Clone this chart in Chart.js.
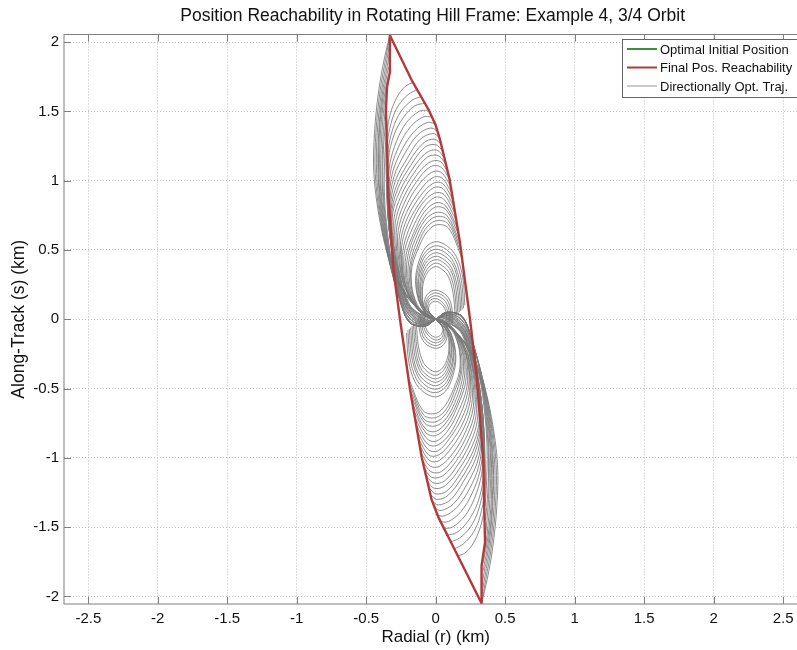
<!DOCTYPE html>
<html>
<head>
<meta charset="utf-8">
<title>Position Reachability</title>
<script src="https://cdn.jsdelivr.net/npm/chart.js@4.4.1/dist/chart.umd.min.js"></script>
<style>
html, body { margin: 0; padding: 0; overflow: hidden; background: #fff; }
#wrap { position: absolute; left: 0; top: 0; width: 870px; height: 650px; }
</style>
</head>
<body>
<div id="wrap"><canvas id="hillChart" width="870" height="650"></canvas></div>
<script>
// Axis ticks
const xTicks = [-2.5, -2, -1.5, -1, -0.5, 0, 0.5, 1, 1.5, 2, 2.5];
const yTicks = [-2, -1.5, -1, -0.5, 0, 0.5, 1, 1.5, 2];

// Optimal initial position (green)
const initX = [0];
const initY = [0];

// Final position reachability boundary (red)
const reachX = [-0.33, -0.17, -0.05, 0.0, 0.03, 0.10, 0.175, 0.247, 0.295, 0.342, 0.355, 0.33, 0.33,
                0.10, 0.02, -0.03, -0.10, -0.185, -0.257, -0.305, -0.34, -0.358, -0.35, -0.33, -0.33];
const reachY = [2.05, 1.72, 1.51, 1.40, 1.30, 1.01, 0.55, 0.0, -0.41, -1.01, -1.61, -1.78, -2.05,
                -1.59, -1.43, -1.30, -1.0, -0.505, 0.0, 0.36, 0.89, 1.51, 1.68, 1.78, 2.05];

// Directionally optimal trajectories, upper arm: big arches (x, y pairs)
const upperArches = [
  [-0.16,1.71, -0.22,1.68, -0.28,1.60, -0.33,1.47, -0.355,1.30, -0.355,1.00, -0.34,0.70, -0.30,0.40, -0.26,0.14, -0.19,-0.01, -0.08,-0.05, 0,0],
  [-0.13,1.66, -0.20,1.62, -0.27,1.54, -0.32,1.42, -0.35,1.25, -0.352,0.97, -0.338,0.68, -0.30,0.39, -0.26,0.14, -0.185,0.0, -0.08,-0.045, 0,0],
  [-0.10,1.61, -0.17,1.58, -0.25,1.50, -0.31,1.37, -0.345,1.20, -0.35,0.94, -0.336,0.66, -0.30,0.38, -0.255,0.14, -0.18,0.0, -0.08,-0.04, 0,0],
  [-0.075,1.56, -0.15,1.54, -0.23,1.46, -0.30,1.33, -0.34,1.16, -0.348,0.92, -0.334,0.64, -0.295,0.37, -0.25,0.14, -0.175,0.01, -0.075,-0.04, 0,0],
  [-0.05,1.51, -0.12,1.50, -0.21,1.42, -0.28,1.29, -0.33,1.12, -0.345,0.90, -0.332,0.63, -0.29,0.36, -0.245,0.13, -0.17,0.01, -0.07,-0.035, 0,0],
  [-0.025,1.46, -0.09,1.46, -0.18,1.39, -0.26,1.26, -0.32,1.09, -0.34,0.88, -0.33,0.62, -0.29,0.35, -0.24,0.13, -0.165,0.015, -0.07,-0.03, 0,0],
  [0.0,1.41, -0.06,1.42, -0.15,1.36, -0.24,1.23, -0.31,1.06, -0.335,0.86, -0.325,0.60, -0.285,0.34, -0.235,0.13, -0.16,0.02, -0.065,-0.03, 0,0],
  [0.015,1.36, -0.04,1.38, -0.13,1.33, -0.22,1.20, -0.30,1.03, -0.33,0.84, -0.32,0.59, -0.28,0.34, -0.23,0.13, -0.155,0.02, -0.06,-0.025, 0,0],
  [0.03,1.31, -0.02,1.34, -0.11,1.30, -0.20,1.17, -0.29,1.00, -0.325,0.82, -0.318,0.58, -0.28,0.33, -0.225,0.12, -0.15,0.025, -0.06,-0.02, 0,0],
  [0.042,1.26, -0.01,1.30, -0.09,1.27, -0.19,1.14, -0.28,0.97, -0.32,0.80, -0.315,0.57, -0.275,0.33, -0.22,0.12, -0.145,0.03, -0.055,-0.02, 0,0],
  [0.054,1.21, 0.0,1.26, -0.08,1.24, -0.18,1.11, -0.27,0.95, -0.315,0.78, -0.31,0.56, -0.27,0.32, -0.215,0.12, -0.14,0.03, -0.05,-0.015, 0,0],
  [0.066,1.16, 0.01,1.22, -0.07,1.20, -0.17,1.08, -0.26,0.92, -0.31,0.76, -0.305,0.55, -0.265,0.32, -0.21,0.12, -0.135,0.035, -0.05,-0.01, 0,0],
  [0.078,1.11, 0.02,1.18, -0.06,1.17, -0.16,1.05, -0.25,0.89, -0.30,0.73, -0.30,0.53, -0.26,0.31, -0.205,0.115, -0.13,0.035, -0.045,-0.01, 0,0],
  [0.088,1.06, 0.03,1.14, -0.05,1.13, -0.15,1.02, -0.24,0.86, -0.29,0.70, -0.29,0.51, -0.255,0.30, -0.20,0.11, -0.125,0.04, -0.045,0.0, 0,0],
  [0.10,1.01, 0.035,1.10, -0.04,1.10, -0.14,0.99, -0.23,0.83, -0.28,0.67, -0.28,0.49, -0.25,0.29, -0.195,0.11, -0.12,0.04, 0,0],
  [0.108,0.96, 0.04,1.06, -0.03,1.06, -0.13,0.96, -0.22,0.80, -0.27,0.64, -0.27,0.47, -0.24,0.28, -0.19,0.11, -0.115,0.04, 0,0],
  [0.116,0.91, 0.045,1.02, -0.025,1.02, -0.12,0.92, -0.21,0.77, -0.26,0.61, -0.26,0.45, -0.235,0.27, -0.16,0.11, -0.07,0.02, 0,0],
  [0.125,0.86, 0.05,0.98, -0.02,0.98, -0.11,0.89, -0.20,0.74, -0.25,0.58, -0.25,0.43, -0.23,0.26, -0.16,0.11, -0.07,0.02, 0,0],
  [0.133,0.81, 0.055,0.94, -0.015,0.95, -0.10,0.86, -0.19,0.71, -0.24,0.56, -0.245,0.41, -0.22,0.25, -0.15,0.10, -0.07,0.02, 0,0],
  [0.141,0.76, 0.06,0.90, -0.01,0.91, -0.10,0.83, -0.18,0.68, -0.23,0.53, -0.24,0.39, -0.215,0.24, -0.15,0.10, -0.06,0.02, 0,0],
  [0.149,0.71, 0.065,0.86, -0.005,0.88, -0.09,0.80, -0.17,0.65, -0.22,0.51, -0.23,0.37, -0.21,0.23, -0.14,0.09, -0.06,0.02, 0,0],
  [0.157,0.66, 0.07,0.82, 0.0,0.84, -0.085,0.77, -0.16,0.62, -0.21,0.48, -0.22,0.35, -0.20,0.22, -0.14,0.09, -0.06,0.02, 0,0],
  [0.166,0.61, 0.075,0.79, 0.0,0.81, -0.08,0.74, -0.155,0.60, -0.20,0.46, -0.21,0.33, -0.19,0.21, -0.13,0.08, -0.05,0.01, 0,0],
  [0.174,0.56, 0.08,0.75, 0.0,0.77, -0.08,0.71, -0.15,0.57, -0.19,0.44, -0.20,0.31, -0.18,0.19, -0.12,0.07, -0.05,0.01, 0,0],
  [0.179,0.52, 0.085,0.72, 0.0,0.74, -0.075,0.68, -0.14,0.55, -0.18,0.42, -0.19,0.30, -0.17,0.18, -0.12,0.07, 0,0],
  [0.184,0.48, 0.088,0.69, 0.0,0.71, -0.075,0.65, -0.135,0.52, -0.175,0.40, -0.18,0.28, -0.16,0.17, -0.11,0.06, 0,0],
  [0.19,0.44, 0.09,0.66, 0.0,0.68, -0.07,0.62, -0.13,0.50, -0.17,0.38, -0.175,0.27, -0.155,0.16, -0.10,0.06, 0,0]
];

// Upper arm: inner arches and central swirl
const upperInner = [
  [0.21,0.10, 0.195,0.30, 0.15,0.45, 0.08,0.53, 0.0,0.56, -0.07,0.52, -0.12,0.42, -0.145,0.28, -0.12,0.13, -0.06,0.03, 0,0],
  [0.20,0.08, 0.185,0.28, 0.14,0.43, 0.075,0.505, 0.0,0.53, -0.07,0.49, -0.115,0.40, -0.14,0.27, -0.115,0.12, -0.06,0.03, 0,0],
  [0.19,0.07, 0.175,0.26, 0.13,0.41, 0.07,0.48, 0.0,0.505, -0.065,0.47, -0.11,0.38, -0.13,0.25, -0.11,0.11, -0.05,0.03, 0,0],
  [0.18,0.06, 0.165,0.25, 0.125,0.39, 0.065,0.455, 0.0,0.48, -0.06,0.445, -0.105,0.36, -0.125,0.24, -0.10,0.10, -0.05,0.02, 0,0],
  [0.17,0.05, 0.155,0.235, 0.115,0.37, 0.06,0.43, 0.0,0.455, -0.06,0.42, -0.10,0.34, -0.115,0.22, -0.095,0.10, 0,0],
  [0.16,0.04, 0.145,0.22, 0.11,0.35, 0.055,0.41, 0.0,0.43, -0.055,0.40, -0.095,0.32, -0.11,0.21, -0.09,0.09, 0,0],
  [0.15,0.03, 0.135,0.205, 0.10,0.33, 0.05,0.385, 0.0,0.405, -0.05,0.375, -0.09,0.30, -0.10,0.20, -0.085,0.09, 0,0],
  [0.14,0.02, 0.125,0.19, 0.09,0.31, 0.045,0.36, 0.0,0.38, -0.05,0.35, -0.085,0.28, -0.095,0.19, -0.08,0.08, 0,0],
  [0.12,-0.03, 0.115,0.09, 0.08,0.17, 0.0,0.21, -0.06,0.18, -0.085,0.10, -0.06,0.03, 0,0],
  [0.11,-0.03, 0.105,0.08, 0.07,0.155, 0.0,0.19, -0.055,0.16, -0.075,0.09, -0.05,0.03, 0,0],
  [0.10,-0.02, 0.095,0.07, 0.06,0.14, 0.0,0.17, -0.05,0.145, -0.065,0.08, 0,0],
  [0.09,-0.02, 0.085,0.06, 0.05,0.12, 0.0,0.15, -0.045,0.13, -0.055,0.07, 0,0],
  [0.08,-0.02, 0.075,0.05, 0.045,0.105, 0.0,0.13, -0.04,0.11, -0.05,0.06, 0,0]
];

// Upper arm: outer traces bulging left of the boundary
const upperOuter = [
  [0,0, -0.08,-0.05, -0.19,-0.02, -0.26,0.15, -0.33,0.40, -0.40,0.70, -0.445,1.05, -0.44,1.35, -0.41,1.65, -0.37,1.88, -0.33,2.05],
  [0,0, -0.08,-0.05, -0.19,-0.02, -0.26,0.15, -0.33,0.40, -0.395,0.70, -0.435,1.05, -0.43,1.35, -0.40,1.65, -0.36,1.88, -0.33,2.05],
  [0,0, -0.08,-0.05, -0.19,-0.02, -0.26,0.15, -0.33,0.40, -0.39,0.70, -0.425,1.05, -0.42,1.35, -0.39,1.65, -0.355,1.85, -0.33,2.0],
  [0,0, -0.08,-0.05, -0.19,-0.02, -0.26,0.15, -0.325,0.40, -0.385,0.70, -0.415,1.05, -0.41,1.35, -0.385,1.62, -0.35,1.82, -0.33,1.93],
  [0,0, -0.08,-0.05, -0.19,-0.02, -0.26,0.15, -0.325,0.40, -0.38,0.70, -0.41,1.05, -0.405,1.35, -0.38,1.60, -0.34,1.82],
  [0,0, -0.13,0.08, -0.245,0.22, -0.32,0.40, -0.375,0.70, -0.40,1.00, -0.40,1.30, -0.375,1.58, -0.34,1.76],
  [0,0, -0.13,0.08, -0.245,0.22, -0.32,0.40, -0.37,0.70, -0.395,1.00, -0.39,1.30, -0.37,1.55, -0.35,1.68],
  [0,0, -0.13,0.08, -0.24,0.22, -0.315,0.40, -0.365,0.70, -0.385,1.00, -0.38,1.30, -0.36,1.55],
  [0,0, -0.13,0.08, -0.24,0.22, -0.315,0.40, -0.36,0.70, -0.38,1.00, -0.375,1.25, -0.358,1.45],
  [0,0, -0.12,0.08, -0.235,0.22, -0.31,0.40, -0.355,0.70, -0.37,0.95, -0.365,1.20, -0.355,1.35]
];

// Lower arm: big arches
const lowerArches = [
  [0.16,-1.71, 0.22,-1.68, 0.28,-1.60, 0.33,-1.47, 0.355,-1.30, 0.355,-1.00, 0.34,-0.70, 0.30,-0.40, 0.26,-0.14, 0.19,0.01, 0.08,0.05, 0,0],
  [0.13,-1.66, 0.20,-1.62, 0.27,-1.54, 0.32,-1.42, 0.35,-1.25, 0.352,-0.97, 0.338,-0.68, 0.30,-0.39, 0.26,-0.14, 0.185,0.0, 0.08,0.045, 0,0],
  [0.10,-1.61, 0.17,-1.58, 0.25,-1.50, 0.31,-1.37, 0.345,-1.20, 0.35,-0.94, 0.336,-0.66, 0.30,-0.38, 0.255,-0.14, 0.18,0.0, 0.08,0.04, 0,0],
  [0.075,-1.56, 0.15,-1.54, 0.23,-1.46, 0.30,-1.33, 0.34,-1.16, 0.348,-0.92, 0.334,-0.64, 0.295,-0.37, 0.25,-0.14, 0.175,-0.01, 0.075,0.04, 0,0],
  [0.05,-1.51, 0.12,-1.50, 0.21,-1.42, 0.28,-1.29, 0.33,-1.12, 0.345,-0.90, 0.332,-0.63, 0.29,-0.36, 0.245,-0.13, 0.17,-0.01, 0.07,0.035, 0,0],
  [0.025,-1.46, 0.09,-1.46, 0.18,-1.39, 0.26,-1.26, 0.32,-1.09, 0.34,-0.88, 0.33,-0.62, 0.29,-0.35, 0.24,-0.13, 0.165,-0.015, 0.07,0.03, 0,0],
  [0.0,-1.41, 0.06,-1.42, 0.15,-1.36, 0.24,-1.23, 0.31,-1.06, 0.335,-0.86, 0.325,-0.60, 0.285,-0.34, 0.235,-0.13, 0.16,-0.02, 0.065,0.03, 0,0],
  [-0.015,-1.36, 0.04,-1.38, 0.13,-1.33, 0.22,-1.20, 0.30,-1.03, 0.33,-0.84, 0.32,-0.59, 0.28,-0.34, 0.23,-0.13, 0.155,-0.02, 0.06,0.025, 0,0],
  [-0.03,-1.31, 0.02,-1.34, 0.11,-1.30, 0.20,-1.17, 0.29,-1.00, 0.325,-0.82, 0.318,-0.58, 0.28,-0.33, 0.225,-0.12, 0.15,-0.025, 0.06,0.02, 0,0],
  [-0.042,-1.26, 0.01,-1.30, 0.09,-1.27, 0.19,-1.14, 0.28,-0.97, 0.32,-0.80, 0.315,-0.57, 0.275,-0.33, 0.22,-0.12, 0.145,-0.03, 0.055,0.02, 0,0],
  [-0.054,-1.21, 0.0,-1.26, 0.08,-1.24, 0.18,-1.11, 0.27,-0.95, 0.315,-0.78, 0.31,-0.56, 0.27,-0.32, 0.215,-0.12, 0.14,-0.03, 0.05,0.015, 0,0],
  [-0.066,-1.16, -0.01,-1.22, 0.07,-1.20, 0.17,-1.08, 0.26,-0.92, 0.31,-0.76, 0.305,-0.55, 0.265,-0.32, 0.21,-0.12, 0.135,-0.035, 0.05,0.01, 0,0],
  [-0.078,-1.11, -0.02,-1.18, 0.06,-1.17, 0.16,-1.05, 0.25,-0.89, 0.30,-0.73, 0.30,-0.53, 0.26,-0.31, 0.205,-0.115, 0.13,-0.035, 0.045,0.01, 0,0],
  [-0.088,-1.06, -0.03,-1.14, 0.05,-1.13, 0.15,-1.02, 0.24,-0.86, 0.29,-0.70, 0.29,-0.51, 0.255,-0.30, 0.20,-0.11, 0.125,-0.04, 0.045,0.0, 0,0],
  [-0.10,-1.01, -0.035,-1.10, 0.04,-1.10, 0.14,-0.99, 0.23,-0.83, 0.28,-0.67, 0.28,-0.49, 0.25,-0.29, 0.195,-0.11, 0.12,-0.04, 0,0],
  [-0.108,-0.96, -0.04,-1.06, 0.03,-1.06, 0.13,-0.96, 0.22,-0.80, 0.27,-0.64, 0.27,-0.47, 0.24,-0.28, 0.19,-0.11, 0.115,-0.04, 0,0],
  [-0.116,-0.91, -0.045,-1.02, 0.025,-1.02, 0.12,-0.92, 0.21,-0.77, 0.26,-0.61, 0.26,-0.45, 0.235,-0.27, 0.16,-0.11, 0.07,-0.02, 0,0],
  [-0.125,-0.86, -0.05,-0.98, 0.02,-0.98, 0.11,-0.89, 0.20,-0.74, 0.25,-0.58, 0.25,-0.43, 0.23,-0.26, 0.16,-0.11, 0.07,-0.02, 0,0],
  [-0.133,-0.81, -0.055,-0.94, 0.015,-0.95, 0.10,-0.86, 0.19,-0.71, 0.24,-0.56, 0.245,-0.41, 0.22,-0.25, 0.15,-0.10, 0.07,-0.02, 0,0],
  [-0.141,-0.76, -0.06,-0.90, 0.01,-0.91, 0.10,-0.83, 0.18,-0.68, 0.23,-0.53, 0.24,-0.39, 0.215,-0.24, 0.15,-0.10, 0.06,-0.02, 0,0],
  [-0.149,-0.71, -0.065,-0.86, 0.005,-0.88, 0.09,-0.80, 0.17,-0.65, 0.22,-0.51, 0.23,-0.37, 0.21,-0.23, 0.14,-0.09, 0.06,-0.02, 0,0],
  [-0.157,-0.66, -0.07,-0.82, 0.0,-0.84, 0.085,-0.77, 0.16,-0.62, 0.21,-0.48, 0.22,-0.35, 0.20,-0.22, 0.14,-0.09, 0.06,-0.02, 0,0],
  [-0.166,-0.61, -0.075,-0.79, 0.0,-0.81, 0.08,-0.74, 0.155,-0.60, 0.20,-0.46, 0.21,-0.33, 0.19,-0.21, 0.13,-0.08, 0.05,-0.01, 0,0],
  [-0.174,-0.56, -0.08,-0.75, 0.0,-0.77, 0.08,-0.71, 0.15,-0.57, 0.19,-0.44, 0.20,-0.31, 0.18,-0.19, 0.12,-0.07, 0.05,-0.01, 0,0],
  [-0.179,-0.52, -0.085,-0.72, 0.0,-0.74, 0.075,-0.68, 0.14,-0.55, 0.18,-0.42, 0.19,-0.30, 0.17,-0.18, 0.12,-0.07, 0,0],
  [-0.184,-0.48, -0.088,-0.69, 0.0,-0.71, 0.075,-0.65, 0.135,-0.52, 0.175,-0.40, 0.18,-0.28, 0.16,-0.17, 0.11,-0.06, 0,0],
  [-0.19,-0.44, -0.09,-0.66, 0.0,-0.68, 0.07,-0.62, 0.13,-0.50, 0.17,-0.38, 0.175,-0.27, 0.155,-0.16, 0.10,-0.06, 0,0]
];

// Lower arm: inner arches and central swirl
const lowerInner = [
  [-0.21,-0.10, -0.195,-0.30, -0.15,-0.45, -0.08,-0.53, 0.0,-0.56, 0.07,-0.52, 0.12,-0.42, 0.145,-0.28, 0.12,-0.13, 0.06,-0.03, 0,0],
  [-0.20,-0.08, -0.185,-0.28, -0.14,-0.43, -0.075,-0.505, 0.0,-0.53, 0.07,-0.49, 0.115,-0.40, 0.14,-0.27, 0.115,-0.12, 0.06,-0.03, 0,0],
  [-0.19,-0.07, -0.175,-0.26, -0.13,-0.41, -0.07,-0.48, 0.0,-0.505, 0.065,-0.47, 0.11,-0.38, 0.13,-0.25, 0.11,-0.11, 0.05,-0.03, 0,0],
  [-0.18,-0.06, -0.165,-0.25, -0.125,-0.39, -0.065,-0.455, 0.0,-0.48, 0.06,-0.445, 0.105,-0.36, 0.125,-0.24, 0.10,-0.10, 0.05,-0.02, 0,0],
  [-0.17,-0.05, -0.155,-0.235, -0.115,-0.37, -0.06,-0.43, 0.0,-0.455, 0.06,-0.42, 0.10,-0.34, 0.115,-0.22, 0.095,-0.10, 0,0],
  [-0.16,-0.04, -0.145,-0.22, -0.11,-0.35, -0.055,-0.41, 0.0,-0.43, 0.055,-0.40, 0.095,-0.32, 0.11,-0.21, 0.09,-0.09, 0,0],
  [-0.15,-0.03, -0.135,-0.205, -0.10,-0.33, -0.05,-0.385, 0.0,-0.405, 0.05,-0.375, 0.09,-0.30, 0.10,-0.20, 0.085,-0.09, 0,0],
  [-0.14,-0.02, -0.125,-0.19, -0.09,-0.31, -0.045,-0.36, 0.0,-0.38, 0.05,-0.35, 0.085,-0.28, 0.095,-0.19, 0.08,-0.08, 0,0],
  [-0.12,0.03, -0.115,-0.09, -0.08,-0.17, 0.0,-0.21, 0.06,-0.18, 0.085,-0.10, 0.06,-0.03, 0,0],
  [-0.11,0.03, -0.105,-0.08, -0.07,-0.155, 0.0,-0.19, 0.055,-0.16, 0.075,-0.09, 0.05,-0.03, 0,0],
  [-0.10,0.02, -0.095,-0.07, -0.06,-0.14, 0.0,-0.17, 0.05,-0.145, 0.065,-0.08, 0,0],
  [-0.09,0.02, -0.085,-0.06, -0.05,-0.12, 0.0,-0.15, 0.045,-0.13, 0.055,-0.07, 0,0],
  [-0.08,0.02, -0.075,-0.05, -0.045,-0.105, 0.0,-0.13, 0.04,-0.11, 0.05,-0.06, 0,0]
];

// Lower arm: outer traces bulging right of the boundary
const lowerOuter = [
  [0,0, 0.08,0.05, 0.19,0.02, 0.26,-0.15, 0.33,-0.40, 0.40,-0.70, 0.445,-1.05, 0.44,-1.35, 0.41,-1.65, 0.37,-1.88, 0.33,-2.05],
  [0,0, 0.08,0.05, 0.19,0.02, 0.26,-0.15, 0.33,-0.40, 0.395,-0.70, 0.435,-1.05, 0.43,-1.35, 0.40,-1.65, 0.36,-1.88, 0.33,-2.05],
  [0,0, 0.08,0.05, 0.19,0.02, 0.26,-0.15, 0.33,-0.40, 0.39,-0.70, 0.425,-1.05, 0.42,-1.35, 0.39,-1.65, 0.355,-1.85, 0.33,-2.0],
  [0,0, 0.08,0.05, 0.19,0.02, 0.26,-0.15, 0.325,-0.40, 0.385,-0.70, 0.415,-1.05, 0.41,-1.35, 0.385,-1.62, 0.35,-1.82, 0.33,-1.93],
  [0,0, 0.08,0.05, 0.19,0.02, 0.26,-0.15, 0.325,-0.40, 0.38,-0.70, 0.41,-1.05, 0.405,-1.35, 0.38,-1.60, 0.34,-1.82],
  [0,0, 0.13,-0.08, 0.245,-0.22, 0.32,-0.40, 0.375,-0.70, 0.40,-1.00, 0.40,-1.30, 0.375,-1.58, 0.34,-1.76],
  [0,0, 0.13,-0.08, 0.245,-0.22, 0.32,-0.40, 0.37,-0.70, 0.395,-1.00, 0.39,-1.30, 0.37,-1.55, 0.35,-1.68],
  [0,0, 0.13,-0.08, 0.24,-0.22, 0.315,-0.40, 0.365,-0.70, 0.385,-1.00, 0.38,-1.30, 0.36,-1.55],
  [0,0, 0.13,-0.08, 0.24,-0.22, 0.315,-0.40, 0.36,-0.70, 0.38,-1.00, 0.375,-1.25, 0.358,-1.45],
  [0,0, 0.12,-0.08, 0.235,-0.22, 0.31,-0.40, 0.355,-0.70, 0.37,-0.95, 0.365,-1.20, 0.355,-1.35]
];

const titleText = 'Position Reachability in Rotating Hill Frame: Example 4, 3/4 Orbit';
const FONT = '"Liberation Sans", Arial, Helvetica, sans-serif';

function pairsToPoints(flat) {
    const pts = [];
    for (let i = 0; i < flat.length; i += 2) pts.push({ x: flat[i], y: flat[i + 1] });
    return pts;
}

// Build datasets
const datasets = [];
datasets.push({
    label: 'Optimal Initial Position',
    data: initX.map((v, i) => ({ x: v, y: initY[i] })),
    borderColor: '#3d8f3d',
    borderWidth: 2,
    pointRadius: 0,
    showLine: true,
    order: 1
});
datasets.push({
    label: 'Final Pos. Reachability',
    data: reachX.map((v, i) => ({ x: v, y: reachY[i] })),
    borderColor: '#b23a3c',
    borderWidth: 2.4,
    pointRadius: 0,
    showLine: true,
    tension: 0,
    order: 0
});
const allTracks = [].concat(upperArches, upperInner, upperOuter, lowerArches, lowerInner, lowerOuter);
allTracks.forEach((t, i) => {
    datasets.push({
        label: i === 0 ? 'Directionally Opt. Traj.' : '',
        data: pairsToPoints(t),
        borderColor: '#777777',
        borderWidth: 0.85,
        pointRadius: 0,
        showLine: true,
        tension: 0.35,
        order: 2
    });
});

// Box, inner ticks, title and legend drawn over the chart (MATLAB look)
const framePlugin = {
    id: 'frame',
    afterDraw(chart) {
        const { ctx, chartArea: a, scales: { x, y } } = chart;
        ctx.save();
        ctx.strokeStyle = '#7f7f7f';
        ctx.lineWidth = 1;
        ctx.setLineDash([]);
        ctx.strokeRect(a.left, a.top, a.right - a.left, a.bottom - a.top);
        ctx.beginPath();
        xTicks.forEach(v => {
            const px = Math.round(x.getPixelForValue(v)) + 0.5;
            ctx.moveTo(px, a.bottom); ctx.lineTo(px, a.bottom - 7);
            ctx.moveTo(px, a.top); ctx.lineTo(px, a.top + 7);
        });
        yTicks.forEach(v => {
            const py = Math.round(y.getPixelForValue(v)) + 0.5;
            ctx.moveTo(a.left, py); ctx.lineTo(a.left + 7, py);
            ctx.moveTo(a.right, py); ctx.lineTo(a.right - 7, py);
        });
        ctx.stroke();

        // title
        ctx.fillStyle = '#111';
        ctx.font = '17.5px ' + FONT;
        ctx.textAlign = 'center';
        ctx.textBaseline = 'middle';
        ctx.fillText(titleText, (a.left + a.right) / 2 - 3, 16);

        // legend
        const entries = chart.data.datasets.filter(d => d.label);
        const lx = 622, ly = 39, lw = 200, lh = 58;
        ctx.fillStyle = '#fff';
        ctx.fillRect(lx, ly, lw, lh);
        ctx.strokeStyle = '#666';
        ctx.strokeRect(lx + 0.5, ly + 0.5, lw, lh);
        ctx.font = '13px ' + FONT;
        ctx.textAlign = 'left';
        entries.forEach((d, i) => {
            const ry = 49 + i * 18.5;
            ctx.strokeStyle = d.borderColor;
            ctx.lineWidth = d.borderWidth < 1 ? 0.8 : 2;
            ctx.beginPath();
            ctx.moveTo(627, ry); ctx.lineTo(657, ry);
            ctx.stroke();
            ctx.fillStyle = '#111';
            ctx.fillText(d.label, 660, ry + 1);
        });
        ctx.restore();
    }
};

const ctx = document.getElementById('hillChart').getContext('2d');
const hillChart = new Chart(ctx, {
    type: 'scatter',
    data: { datasets: datasets },
    options: {
        responsive: false,
        animation: false,
        events: [],
        layout: { padding: { top: 34.5, right: 62.6, left: 0, bottom: 0 } },
        plugins: {
            legend: { display: false },
            title: { display: false },
            tooltip: { enabled: false }
        },
        scales: {
            x: {
                type: 'linear',
                min: -2.675,
                max: 2.675,
                afterBuildTicks: s => { s.ticks = xTicks.map(v => ({ value: v })); },
                afterFit: s => { s.height = 46; },
                grid: { color: '#bdbdbd', lineWidth: 1, drawTicks: false },
                border: { display: false, dash: [1, 2] },
                ticks: {
                    autoSkip: false,
                    maxRotation: 0,
                    padding: 6,
                    color: '#111',
                    font: { family: FONT, size: 15 },
                    callback: v => String(v)
                },
                title: {
                    display: true,
                    text: 'Radial (r) (km)',
                    color: '#111',
                    font: { family: FONT, size: 17 },
                    padding: { top: 0, bottom: 2 }
                }
            },
            y: {
                type: 'linear',
                min: -2.055,
                max: 2.055,
                afterBuildTicks: s => { s.ticks = yTicks.map(v => ({ value: v })); },
                afterFit: s => { s.width = 64; },
                grid: { color: '#bdbdbd', lineWidth: 1, drawTicks: false },
                border: { display: false, dash: [1, 2] },
                ticks: {
                    autoSkip: false,
                    padding: 5,
                    color: '#111',
                    font: { family: FONT, size: 15 },
                    callback: v => String(v)
                },
                title: {
                    display: true,
                    text: 'Along-Track (s) (km)',
                    color: '#111',
                    font: { family: FONT, size: 17.5 },
                    padding: { top: 9, bottom: 0 }
                }
            }
        }
    },
    plugins: [framePlugin]
});
</script>
</body>
</html>
